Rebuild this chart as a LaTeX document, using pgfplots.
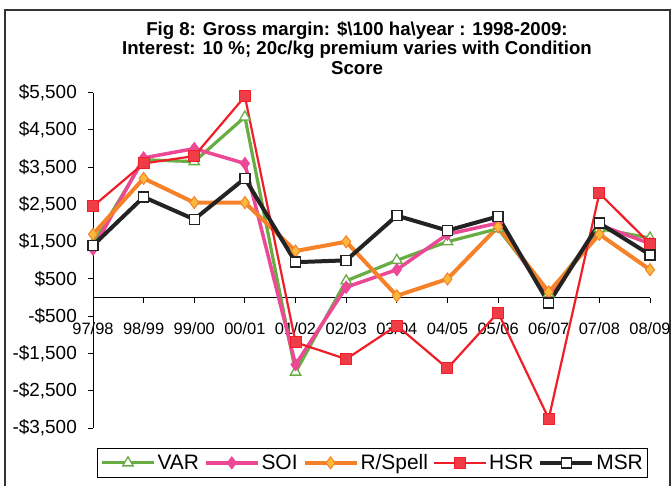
\documentclass[border=0pt]{standalone}
\usepackage{fontspec}
\setmainfont{Liberation Sans}
\usepackage{pgfplots}
\pgfplotsset{compat=1.18}
\usepackage{pgfplotstable}
\definecolor{cvar}{RGB}{104,172,68}
\definecolor{csoi}{RGB}{236,72,150}
\definecolor{cspell}{RGB}{245,130,40}
\definecolor{cspellfill}{RGB}{250,185,60}
\definecolor{chsr}{RGB}{240,30,40}
\definecolor{chsrfill}{RGB}{240,60,70}
\definecolor{cmsr}{RGB}{35,35,35}
\pgfplotstableread{
x VAR SOI RSpell HSR MSR
0 1450 1300 1700 2450 1400
1 3700 3750 3200 3600 2700
2 3650 4000 2550 3800 2100
3 4850 3600 2550 5400 3200
4 -2000 -1800 1250 -1200 950
5 450 280 1500 -1650 1000
6 1000 750 50 -750 2200
7 1500 1700 500 -1900 1800
8 1850 2000 1900 -400 2180
9 100 -50 150 -3250 -150
10 1850 1950 1700 2800 2000
11 1600 1450 750 1450 1150
}\data
\begin{document}
\begin{tikzpicture}
\useasboundingbox (0,0) rectangle (671bp,486bp);
\fill[white] (0,0) rectangle (671bp,486bp);
\draw[line width=1.2bp, black!80] (5bp,-5bp) rectangle (670bp,476bp);
\node[font=\bfseries\fontsize{18.7}{19.5}\selectfont, align=center] at (357bp,438bp)
 {Fig 8: Gross margin: \$\textbackslash100 ha\textbackslash year : 1998-2009:\\
  Interest: 10 \%; 20c/kg premium varies with Condition\\ Score};
\begin{axis}[
  at={(93bp,58bp)}, anchor=south west,
  scale only axis, width=557bp, height=335.3bp,
  xmin=0, xmax=11, ymin=-3500, ymax=5500,
  axis x line*=middle, axis y line*=left,
  hide obscured x ticks=false,
  axis line style={line width=1bp, black},
  tick align=outside, major tick length=5bp,
  tick style={line width=1bp, black},
  xtick={0,...,11},
  xticklabels={97/98,98/99,99/00,00/01,01/02,02/03,03/04,04/05,05/06,06/07,07/08,08/09},
  ytick={-3500,-2500,...,5500},
  yticklabels={{-\$3,500},{-\$2,500},{-\$1,500},{-\$500},{\$500},{\$1,500},{\$2,500},{\$3,500},{\$4,500},{\$5,500}},
  xticklabel style={font=\fontsize{16.5}{18}\selectfont, anchor=north, inner sep=0pt, yshift=-20bp},
  yticklabel style={font=\fontsize{19}{21}\selectfont, anchor=east, inner sep=0pt, xshift=-11bp},
  clip=false,
  legend columns=5,
  legend style={at={(axis description cs:0.502,-0.104)}, anchor=center,
    draw=black, line width=1bp, inner xsep=3bp, inner ysep=4.5bp,
    font=\fontsize{21}{23}\selectfont,
    /tikz/every even column/.append style={column sep=3bp}},
  legend image code/.code={\draw[mark repeat=2,mark phase=2] plot coordinates {(0bp,0bp) (26bp,0bp) (52bp,0bp)};},
]
\addplot[cvar, line width=3.2bp, mark=triangle*, mark size=6bp, mark options={fill=white, line width=1.3bp}] table[y=VAR]{\data};
\addlegendentry{VAR}
\addplot[csoi, line width=3.5bp, mark=diamond*, mark size=6bp, mark options={fill=csoi, line width=1bp}] table[y=SOI]{\data};
\addlegendentry{SOI}
\addplot[cspell, line width=4bp, mark=diamond*, mark size=6bp, mark options={fill=cspellfill, line width=1bp}] table[y=RSpell]{\data};
\addlegendentry{R/Spell}
\addplot[chsr, line width=2.2bp, mark=square*, mark size=5.5bp, mark options={fill=chsrfill, line width=1bp}] table[y=HSR]{\data};
\addlegendentry{HSR}
\addplot[cmsr, line width=4bp, mark=square*, mark size=5bp, mark options={fill=white, line width=1.5bp}] table[y=MSR]{\data};
\addlegendentry{MSR}
\end{axis}
\end{tikzpicture}
\end{document}
